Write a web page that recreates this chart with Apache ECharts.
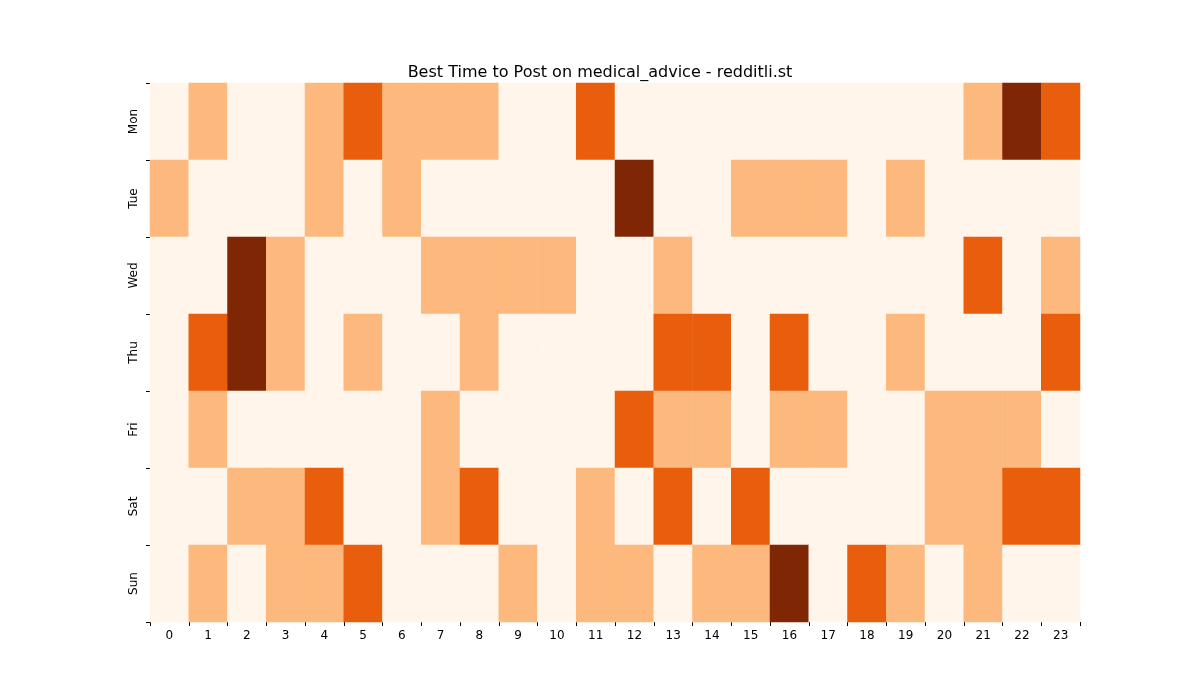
<!DOCTYPE html>
<html><head><meta charset="utf-8">
<script src="https://cdn.jsdelivr.net/npm/echarts@6/dist/echarts.min.js"></script>
<style>html,body{margin:0;padding:0;background:#fff}#c{width:1200px;height:700px}</style>
</head><body><div id="c"></div>
<script>
const hours = ['0','1','2','3','4','5','6','7','8','9','10','11','12','13','14','15','16','17','18','19','20','21','22','23'];
const days = ['Mon','Tue','Wed','Thu','Fri','Sat','Sun'];
const mon = [0,1,0,0,1,2,1,1,1,0,0,2,0,0,0,0,0,0,0,0,0,1,3,2];
const tue = [1,0,0,0,1,0,1,0,0,0,0,0,3,0,0,1,1,1,0,1,0,0,0,0];
const wed = [0,0,3,1,0,0,0,1,1,1,1,0,0,1,0,0,0,0,0,0,0,2,0,1];
const thu = [0,2,3,1,0,1,0,0,1,0,0,0,0,2,2,0,2,0,0,1,0,0,0,2];
const fri = [0,1,0,0,0,0,0,1,0,0,0,0,2,1,1,0,1,1,0,0,1,1,1,0];
const sat = [0,0,1,1,2,0,0,1,2,0,0,1,0,2,0,2,0,0,0,0,1,1,2,2];
const sun = [0,1,0,1,1,2,0,0,0,1,0,1,1,0,1,1,3,0,2,1,0,1,0,0];
const rows = [mon,tue,wed,thu,fri,sat,sun];
const data = [];
rows.forEach((r,di)=>r.forEach((v,h)=>data.push([h,di,v])));
const chart = echarts.init(document.getElementById('c'));
chart.setOption({
  animation:false,
  title:{text:'Best Time to Post on medical_advice - redditli.st',left:'center',top:60,textStyle:{fontFamily:'DejaVu Sans',fontSize:16,fontWeight:'normal',color:'#000'}},
  graphic:[{type:'text',left:'center',top:337,style:{text:'redditli.st',font:'28px DejaVu Sans',fill:'rgba(128,128,128,0.45)'}}],
  grid:{left:150,right:120,top:83,bottom:78},
  xAxis:{type:'category',data:hours,axisLine:{show:false},axisTick:{show:true,length:4,lineStyle:{color:'#000'}},axisLabel:{color:'#000',fontFamily:'DejaVu Sans',fontSize:12},splitLine:{show:false}},
  yAxis:{type:'category',data:days,inverse:true,axisLine:{show:false},axisTick:{show:true,length:4,lineStyle:{color:'#000'}},axisLabel:{color:'#000',fontFamily:'DejaVu Sans',fontSize:12,rotate:90,margin:10},splitLine:{show:false}},
  visualMap:{show:false,type:'piecewise',dimension:2,pieces:[{value:0,color:'#fff5eb'},{value:1,color:'#fdb97d'},{value:2,color:'#e95e0d'},{value:3,color:'#7f2704'}]},
  series:[{type:'heatmap',data:data,itemStyle:{borderWidth:0}}]
});
</script></body></html>
